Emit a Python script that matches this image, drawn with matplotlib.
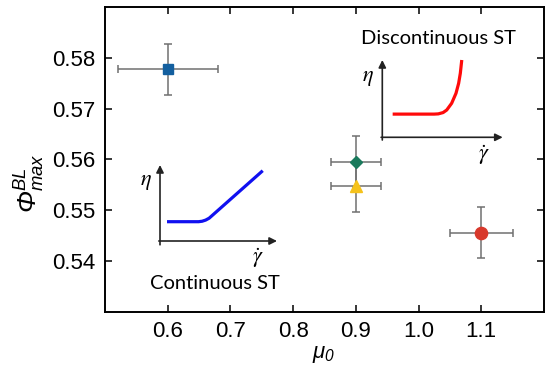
import matplotlib
matplotlib.use("Agg")
import matplotlib.pyplot as plt

# data points (mu_0, Phi_max^BL) with error bars
mu = [0.6, 0.9, 0.9, 1.1]
phi = [0.5777, 0.5595, 0.5547, 0.5455]
mu_err = [0.08, 0.04, 0.04, 0.05]
phi_err = [0.005, 0.005, 0.005, 0.005]
markers = ['s', 'D', '^', 'o']
sizes = [7.7, 6.0, 8.0, 8.8]
colors = ['#135f9f', '#1a7a5c', '#f5c21b', '#d8382b']

x_ticks = [0.6, 0.7, 0.8, 0.9, 1.0, 1.1]
y_ticks = [0.54, 0.55, 0.56, 0.57, 0.58]

# schematic flow curves (inset coordinates)
cont_u = [0.06, 0.33, 0.36, 0.39, 0.42, 0.878]
cont_v = [0.254, 0.254, 0.26, 0.275, 0.30, 0.925]
disc_u = [0.086, 0.43, 0.465, 0.505, 0.535, 0.576, 0.612, 0.634, 0.648, 0.66]
disc_v = [0.30, 0.30, 0.303, 0.32, 0.353, 0.44, 0.569, 0.698, 0.828, 1.0]

plt.rcParams['font.family'] = ['Liberation Sans', 'DejaVu Sans']
plt.rcParams['mathtext.fontset'] = 'custom'
plt.rcParams['mathtext.it'] = 'Liberation Sans:italic'
plt.rcParams['mathtext.rm'] = 'Liberation Sans:italic'

W, H = 546, 366
fig = plt.figure(figsize=(W / 100, H / 100), dpi=100)


def px_axes(left, right, top, bottom):
    return fig.add_axes([left / W, 1 - bottom / H, (right - left) / W, (bottom - top) / H])


ax = px_axes(105, 544, 7, 311.5)

for i in range(len(mu)):
    ax.errorbar(mu[i], phi[i], xerr=mu_err[i], yerr=phi_err[i], fmt='none',
                ecolor='#707070', elinewidth=1.1, capsize=3.2, capthick=1.1, zorder=2)
for i in range(len(mu)):
    ax.plot(mu[i], phi[i], marker=markers[i], ms=sizes[i], color=colors[i],
            mec=colors[i], ls='none', zorder=3)

ax.set_xlim(0.5, 1.2)
ax.set_ylim(0.53, 0.59)
ax.set_xticks(x_ticks)
ax.set_xticklabels(['%.1f' % t for t in x_ticks], fontfamily='Liberation Sans')
ax.set_yticks(y_ticks)
ax.set_yticklabels(['%.2f' % t for t in y_ticks], fontfamily='Liberation Sans')
ax.tick_params(direction='in', length=5, width=1.1, labelsize=16, pad=7,
               top=True, right=True, labeltop=False, labelright=False)
for s in ax.spines.values():
    s.set_linewidth(1.4)

ax.set_xlabel(r'$\mu_0$', fontsize=16, va='center')
ax.xaxis.set_label_coords(0.497, -0.14)
ax.set_ylabel(r'$Φ_{max}^{BL}$', fontsize=19, ha='center', va='center')
ax.yaxis.set_label_coords(-0.17, 0.42)


def draw_inset(ins, u, v, color, title, title_v, down):
    ins.set_xlim(0, 1)
    ins.set_ylim(0, 1)
    ins.axis('off')
    arrow = dict(arrowstyle='-|>', lw=1.2, color='#222222', mutation_scale=11,
                 shrinkA=0, shrinkB=0)
    ins.annotate('', xy=(1, 0), xytext=(-0.01, 0), arrowprops=arrow, annotation_clip=False)
    ins.annotate('', xy=(0, 1), xytext=(0, -down), arrowprops=arrow, annotation_clip=False)
    ins.plot(u, v, color=color, lw=2.3, solid_capstyle='butt', solid_joinstyle='round',
             clip_on=False)
    ins.text(-0.12, 0.78, r'$\eta$', fontsize=16, math_fontfamily='stix',
             ha='center', va='center')
    ins.text(0.84, -0.23, r'$\dot{\gamma}$', fontsize=16, math_fontfamily='stix',
             ha='center', va='center')
    ins.text(0.47, title_v, title, fontsize=14.5, family=['Lato', 'DejaVu Sans'],
             ha='center', va='center')


cont = px_axes(160, 277, 165, 241)
draw_inset(cont, cont_u, cont_v, '#1010f0', 'Continuous ST', -0.557, 0.05)

disc = px_axes(382.3, 502.7, 60, 137.3)
draw_inset(disc, disc_u, disc_v, '#ff0a0a', 'Discontinuous ST', 1.28, 0.035)

fig.savefig('out.png', dpi=100)
